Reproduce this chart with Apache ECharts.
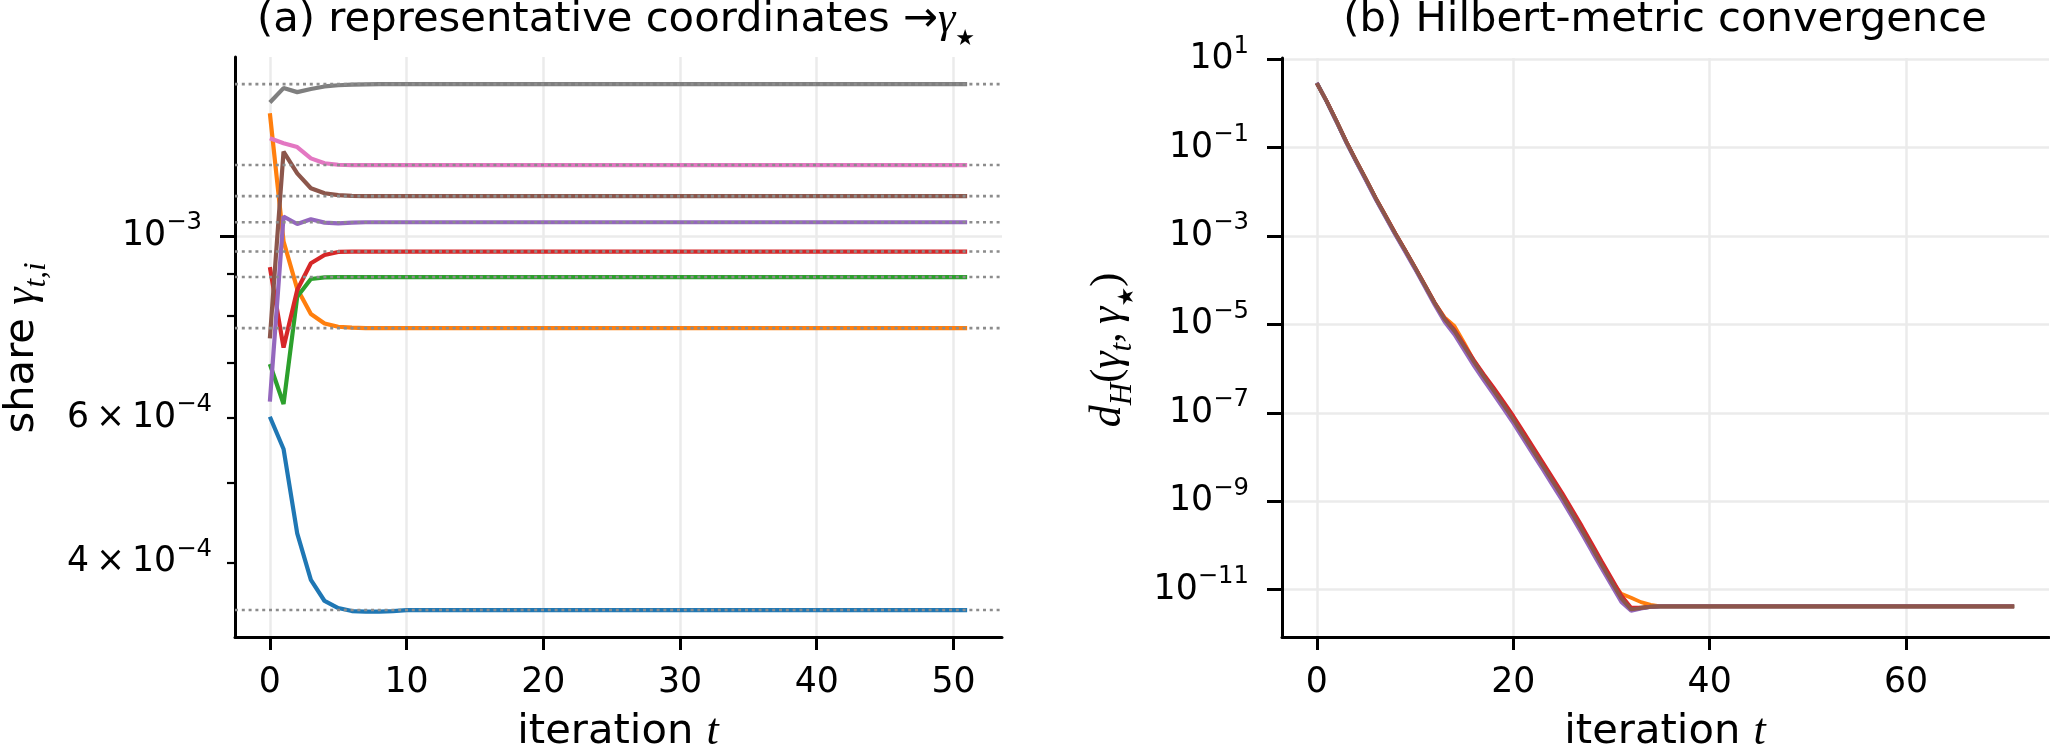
<!DOCTYPE html>
<html>
<head>
<meta charset="utf-8">
<title>representative coordinates / Hilbert-metric convergence</title>
<script src="https://cdn.jsdelivr.net/npm/echarts@6/dist/echarts.min.js"></script>
<style>
  html, body { margin: 0; padding: 0; background: #fff; }
  #chart { width: 2050px; height: 749px; }
</style>
</head>
<body>
<div id="chart"></div>
<script>
// (a) shares gamma_{t,i} for t = 0..51, one array per coordinate
const shareBlue = [6.02e-4, 5.50e-4, 4.34e-4, 3.81e-4, 3.59e-4, 3.52e-4, 3.49e-4, 3.485e-4, 3.485e-4, 3.49e-4,
  3.50e-4, 3.50e-4, 3.50e-4, 3.50e-4, 3.50e-4, 3.50e-4, 3.50e-4, 3.50e-4, 3.50e-4, 3.50e-4, 3.50e-4, 3.50e-4, 3.50e-4, 3.50e-4,
  3.50e-4, 3.50e-4, 3.50e-4, 3.50e-4, 3.50e-4, 3.50e-4, 3.50e-4, 3.50e-4, 3.50e-4, 3.50e-4, 3.50e-4, 3.50e-4, 3.50e-4, 3.50e-4,
  3.50e-4, 3.50e-4, 3.50e-4, 3.50e-4, 3.50e-4, 3.50e-4, 3.50e-4, 3.50e-4, 3.50e-4, 3.50e-4, 3.50e-4, 3.50e-4, 3.50e-4, 3.50e-4]
const shareOrange = [1.411e-3, 9.85e-4, 8.62e-4, 8.03e-4, 7.82e-4, 7.75e-4, 7.73e-4, 7.72e-4, 7.72e-4, 7.72e-4,
  7.72e-4, 7.72e-4, 7.72e-4, 7.72e-4, 7.72e-4, 7.72e-4, 7.72e-4, 7.72e-4, 7.72e-4, 7.72e-4, 7.72e-4, 7.72e-4, 7.72e-4, 7.72e-4,
  7.72e-4, 7.72e-4, 7.72e-4, 7.72e-4, 7.72e-4, 7.72e-4, 7.72e-4, 7.72e-4, 7.72e-4, 7.72e-4, 7.72e-4, 7.72e-4, 7.72e-4, 7.72e-4,
  7.72e-4, 7.72e-4, 7.72e-4, 7.72e-4, 7.72e-4, 7.72e-4, 7.72e-4, 7.72e-4, 7.72e-4, 7.72e-4, 7.72e-4, 7.72e-4, 7.72e-4, 7.72e-4]
const shareGreen = [6.98e-4, 6.24e-4, 8.43e-4, 8.86e-4, 8.90e-4, 8.91e-4, 8.91e-4, 8.91e-4, 8.91e-4, 8.91e-4,
  8.91e-4, 8.91e-4, 8.91e-4, 8.91e-4, 8.91e-4, 8.91e-4, 8.91e-4, 8.91e-4, 8.91e-4, 8.91e-4, 8.91e-4, 8.91e-4, 8.91e-4, 8.91e-4,
  8.91e-4, 8.91e-4, 8.91e-4, 8.91e-4, 8.91e-4, 8.91e-4, 8.91e-4, 8.91e-4, 8.91e-4, 8.91e-4, 8.91e-4, 8.91e-4, 8.91e-4, 8.91e-4,
  8.91e-4, 8.91e-4, 8.91e-4, 8.91e-4, 8.91e-4, 8.91e-4, 8.91e-4, 8.91e-4, 8.91e-4, 8.91e-4, 8.91e-4, 8.91e-4, 8.91e-4, 8.91e-4]
const shareRed = [9.16e-4, 7.31e-4, 8.59e-4, 9.26e-4, 9.48e-4, 9.56e-4, 9.57e-4, 9.57e-4, 9.57e-4, 9.57e-4,
  9.57e-4, 9.57e-4, 9.57e-4, 9.57e-4, 9.57e-4, 9.57e-4, 9.57e-4, 9.57e-4, 9.57e-4, 9.57e-4, 9.57e-4, 9.57e-4, 9.57e-4, 9.57e-4,
  9.57e-4, 9.57e-4, 9.57e-4, 9.57e-4, 9.57e-4, 9.57e-4, 9.57e-4, 9.57e-4, 9.57e-4, 9.57e-4, 9.57e-4, 9.57e-4, 9.57e-4, 9.57e-4,
  9.57e-4, 9.57e-4, 9.57e-4, 9.57e-4, 9.57e-4, 9.57e-4, 9.57e-4, 9.57e-4, 9.57e-4, 9.57e-4, 9.57e-4, 9.57e-4, 9.57e-4, 9.57e-4]
const sharePurple = [6.28e-4, 1.056e-3, 1.034e-3, 1.048e-3, 1.038e-3, 1.036e-3, 1.038e-3, 1.039e-3, 1.039e-3, 1.039e-3,
  1.039e-3, 1.039e-3, 1.039e-3, 1.039e-3, 1.039e-3, 1.039e-3, 1.039e-3, 1.039e-3, 1.039e-3, 1.039e-3, 1.039e-3, 1.039e-3, 1.039e-3, 1.039e-3,
  1.039e-3, 1.039e-3, 1.039e-3, 1.039e-3, 1.039e-3, 1.039e-3, 1.039e-3, 1.039e-3, 1.039e-3, 1.039e-3, 1.039e-3, 1.039e-3, 1.039e-3, 1.039e-3,
  1.039e-3, 1.039e-3, 1.039e-3, 1.039e-3, 1.039e-3, 1.039e-3, 1.039e-3, 1.039e-3, 1.039e-3, 1.039e-3, 1.039e-3, 1.039e-3, 1.039e-3, 1.039e-3]
const shareBrown = [7.50e-4, 1.267e-3, 1.192e-3, 1.143e-3, 1.127e-3, 1.121e-3, 1.119e-3, 1.118e-3, 1.118e-3, 1.118e-3,
  1.118e-3, 1.118e-3, 1.118e-3, 1.118e-3, 1.118e-3, 1.118e-3, 1.118e-3, 1.118e-3, 1.118e-3, 1.118e-3, 1.118e-3, 1.118e-3, 1.118e-3, 1.118e-3,
  1.118e-3, 1.118e-3, 1.118e-3, 1.118e-3, 1.118e-3, 1.118e-3, 1.118e-3, 1.118e-3, 1.118e-3, 1.118e-3, 1.118e-3, 1.118e-3, 1.118e-3, 1.118e-3,
  1.118e-3, 1.118e-3, 1.118e-3, 1.118e-3, 1.118e-3, 1.118e-3, 1.118e-3, 1.118e-3, 1.118e-3, 1.118e-3, 1.118e-3, 1.118e-3, 1.118e-3, 1.118e-3]
const sharePink = [1.315e-3, 1.297e-3, 1.283e-3, 1.243e-3, 1.226e-3, 1.221e-3, 1.220e-3, 1.220e-3, 1.220e-3, 1.220e-3,
  1.220e-3, 1.220e-3, 1.220e-3, 1.220e-3, 1.220e-3, 1.220e-3, 1.220e-3, 1.220e-3, 1.220e-3, 1.220e-3, 1.220e-3, 1.220e-3, 1.220e-3, 1.220e-3,
  1.220e-3, 1.220e-3, 1.220e-3, 1.220e-3, 1.220e-3, 1.220e-3, 1.220e-3, 1.220e-3, 1.220e-3, 1.220e-3, 1.220e-3, 1.220e-3, 1.220e-3, 1.220e-3,
  1.220e-3, 1.220e-3, 1.220e-3, 1.220e-3, 1.220e-3, 1.220e-3, 1.220e-3, 1.220e-3, 1.220e-3, 1.220e-3, 1.220e-3, 1.220e-3, 1.220e-3, 1.220e-3]
const shareGray = [1.454e-3, 1.514e-3, 1.497e-3, 1.510e-3, 1.521e-3, 1.526e-3, 1.529e-3, 1.530e-3, 1.531e-3, 1.531e-3,
  1.531e-3, 1.531e-3, 1.531e-3, 1.531e-3, 1.531e-3, 1.531e-3, 1.531e-3, 1.531e-3, 1.531e-3, 1.531e-3, 1.531e-3, 1.531e-3, 1.531e-3, 1.531e-3,
  1.531e-3, 1.531e-3, 1.531e-3, 1.531e-3, 1.531e-3, 1.531e-3, 1.531e-3, 1.531e-3, 1.531e-3, 1.531e-3, 1.531e-3, 1.531e-3, 1.531e-3, 1.531e-3,
  1.531e-3, 1.531e-3, 1.531e-3, 1.531e-3, 1.531e-3, 1.531e-3, 1.531e-3, 1.531e-3, 1.531e-3, 1.531e-3, 1.531e-3, 1.531e-3, 1.531e-3, 1.531e-3]
// fixed point gamma_star, same order as the shares
const gammaStar = [3.50e-4, 7.72e-4, 8.91e-4, 9.57e-4, 1.039e-3, 1.118e-3, 1.220e-3, 1.531e-3]

// (b) d_H(gamma_t, gamma_star) for t = 0..71 (first 35 steps, then the common floor)
const floorB = [4.17e-12, 4.17e-12, 4.17e-12, 4.17e-12, 4.17e-12, 4.17e-12, 4.17e-12, 4.17e-12, 4.17e-12, 4.17e-12, 4.17e-12, 4.17e-12,
  4.17e-12, 4.17e-12, 4.17e-12, 4.17e-12, 4.17e-12, 4.17e-12, 4.17e-12, 4.17e-12, 4.17e-12, 4.17e-12, 4.17e-12, 4.17e-12,
  4.17e-12, 4.17e-12, 4.17e-12, 4.17e-12, 4.17e-12, 4.17e-12, 4.17e-12, 4.17e-12, 4.17e-12, 4.17e-12, 4.17e-12, 4.17e-12, 4.17e-12]
const distBlue = [2.86, 1.10, 0.39, 0.132, 0.049, 0.0187, 6.95e-3, 2.76e-3, 1.10e-3, 4.6e-4, 1.87e-4, 7.45e-5, 2.96e-5, 1.29e-5, 6.9e-6,
  3.1e-6, 1.38e-6, 6.5e-7, 3.1e-7, 1.48e-7, 6.9e-8, 3.1e-8, 1.38e-8, 6.2e-9, 2.76e-9, 1.23e-9, 5.1e-10, 2.14e-10, 8.7e-11, 3.55e-11,
  1.48e-11, 6.2e-12, 3.5e-12, 3.8e-12, 4.07e-12]
const distOrange = [2.90, 1.13, 0.40, 0.136, 0.0505, 0.0193, 7.1e-3, 2.84e-3, 1.13e-3, 4.72e-4, 1.93e-4, 7.7e-5, 3.1e-5, 1.45e-5, 9.2e-6,
  3.8e-6, 1.50e-6, 6.8e-7, 3.2e-7, 1.52e-7, 7.1e-8, 3.2e-8, 1.42e-8, 6.4e-9, 2.85e-9, 1.28e-9, 5.3e-10, 2.22e-10, 9.0e-11, 3.7e-11,
  1.6e-11, 8.0e-12, 6.5e-12, 5.2e-12, 4.5e-12]
const distGreen = [2.92, 1.11, 0.395, 0.134, 0.0498, 0.0190, 7.0e-3, 2.80e-3, 1.11e-3, 4.64e-4, 1.89e-4, 7.5e-5, 3.0e-5, 1.30e-5, 7.0e-6,
  3.1e-6, 1.38e-6, 6.5e-7, 3.1e-7, 1.48e-7, 6.9e-8, 3.1e-8, 1.38e-8, 6.2e-9, 2.78e-9, 1.24e-9, 5.2e-10, 2.16e-10, 8.8e-11, 3.6e-11,
  1.5e-11, 6.4e-12, 3.7e-12, 3.9e-12, 4.1e-12]
const distRed = [2.85, 1.13, 0.40, 0.137, 0.051, 0.0194, 7.2e-3, 2.88e-3, 1.15e-3, 4.8e-4, 1.96e-4, 7.8e-5, 3.1e-5, 1.38e-5, 7.6e-6,
  3.4e-6, 1.55e-6, 7.4e-7, 3.7e-7, 1.8e-7, 8.5e-8, 3.8e-8, 1.7e-8, 7.6e-9, 3.4e-9, 1.52e-9, 6.4e-10, 2.7e-10, 1.09e-10, 4.4e-11,
  1.82e-11, 7.4e-12, 3.9e-12, 3.9e-12, 4.1e-12]
const distPurple = [2.95, 1.10, 0.385, 0.130, 0.0480, 0.0180, 6.70e-3, 2.65e-3, 1.05e-3, 4.35e-4, 1.78e-4, 7.0e-5, 2.75e-5, 1.15e-5, 5.9e-6,
  2.6e-6, 1.15e-6, 5.4e-7, 2.6e-7, 1.24e-7, 5.8e-8, 2.6e-8, 1.16e-8, 5.2e-9, 2.3e-9, 1.02e-9, 4.3e-10, 1.8e-10, 7.3e-11, 3.0e-11,
  1.25e-11, 5.2e-12, 3.3e-12, 3.7e-12, 4.05e-12]
const distBrown = [2.88, 1.12, 0.398, 0.135, 0.0501, 0.0191, 7.08e-3, 2.82e-3, 1.12e-3, 4.68e-4, 1.91e-4, 7.59e-5, 3.02e-5, 1.32e-5, 7.08e-6,
  3.16e-6, 1.41e-6, 6.61e-7, 3.16e-7, 1.51e-7, 7.08e-8, 3.16e-8, 1.41e-8, 6.31e-9, 2.82e-9, 1.26e-9, 5.25e-10, 2.19e-10, 8.91e-11, 3.63e-11,
  1.51e-11, 6.31e-12, 3.55e-12, 3.80e-12, 4.07e-12]

// ticks
const xTicksA = [0, 10, 20, 30, 40, 50]
const xTicksB = [0, 20, 40, 60]
const yMajorA = [1e-3]
const yMinorA = [4e-4, 5e-4, 6e-4, 7e-4, 8e-4, 9e-4]
const yMinorLabelsA = [4e-4, 6e-4]
const yTicksB = [1e1, 1e-1, 1e-3, 1e-5, 1e-7, 1e-9, 1e-11]

const tab10 = ['#1f77b4', '#ff7f0e', '#2ca02c', '#d62728', '#9467bd', '#8c564b', '#e377c2', '#7f7f7f']
const sansFont = 'DejaVu Sans'
const serifFont = 'Liberation Serif'

const xMinA = -2.55, xMaxA = 53.55
const xMinB = -3.55, xMaxB = 74.55
const yMinA = 3.245e-4, yMaxA = 1.652e-3
const yMinB = 8.45e-13, yMaxB = 10.7

const lg = (v) => Math.log10(v)
const sup = (n) => (n < 0 ? '\u2212' + (-n) : '' + n)

// rich styles for 10^k labels
const tickRich = {
    b: {fontFamily: sansFont, fontSize: 34.7, color: '#000', lineHeight: 50, verticalAlign: 'middle'},
    s: {fontFamily: sansFont, fontSize: 24.3, color: '#000', lineHeight: 33, verticalAlign: 'top'},
}

const sharesA = [shareBlue, shareOrange, shareGreen, shareRed, sharePurple, shareBrown, sharePink, shareGray]
const distsB = [distBlue, distOrange, distGreen, distRed, distPurple, distBrown]

const seriesA = sharesA.map((vals, k) => ({
    type: 'line',
    xAxisIndex: 0,
    yAxisIndex: 0,
    data: vals.map((v, t) => [t, v]),
    symbol: 'none',
    showSymbol: false,
    lineStyle: {color: tab10[k], width: 4.2},
    itemStyle: {color: tab10[k]},
    emphasis: {disabled: true},
    z: 2,
}))

// dotted horizontal lines at gamma_star, across the whole x range
const starLines = gammaStar.map((g) => ({
    type: 'line',
    xAxisIndex: 0,
    yAxisIndex: 0,
    data: [[xMinA, g], [xMaxA, g]],
    symbol: 'none',
    showSymbol: false,
    silent: true,
    lineStyle: {color: '#8c8c8c', width: 2.6, type: [3, 3.8]},
    emphasis: {disabled: true},
    z: 3,
}))

const seriesB = distsB.map((vals, k) => ({
    type: 'line',
    xAxisIndex: 1,
    yAxisIndex: 3,
    data: vals.concat(floorB).map((v, t) => [t, v]),
    symbol: 'none',
    showSymbol: false,
    lineStyle: {color: tab10[k], width: 3.8},
    itemStyle: {color: tab10[k]},
    emphasis: {disabled: true},
}))

const axisBlack = {color: '#000', width: 3}
const gridLine = {show: true, lineStyle: {color: '#ebebeb', width: 2.5}}

const xAxisBase = (gi, min, max, ticks) => ({
    gridIndex: gi,
    type: 'value',
    position: 'bottom',
    min: min,
    max: max,
    axisLine: {show: true, onZero: false, lineStyle: axisBlack},
    axisTick: {show: true, length: 13, lineStyle: axisBlack, customValues: ticks},
    axisLabel: {customValues: ticks, fontFamily: sansFont, fontSize: 34.7, color: '#000', margin: 28},
    splitLine: gridLine,
})

const option = {
    backgroundColor: '#fff',
    animation: false,
    grid: [
        {left: 235, top: 57, width: 767, height: 580, outerBoundsMode: 'none'},
        {left: 1282, top: 58, width: 767, height: 579, outerBoundsMode: 'none'},
    ],
    xAxis: [
        xAxisBase(0, xMinA, xMaxA, xTicksA),
        xAxisBase(1, xMinB, xMaxB, xTicksB),
    ],
    yAxis: [
        // 0: log scale used by panel (a) lines
        {gridIndex: 0, type: 'log', position: 'left', min: yMinA, max: yMaxA, show: false},
        // 1: major ticks of panel (a)
        {
            gridIndex: 0, type: 'value', position: 'left', min: lg(yMinA), max: lg(yMaxA),
            axisLine: {show: true, onZero: false, lineStyle: axisBlack},
            axisTick: {show: true, length: 15, lineStyle: axisBlack, customValues: yMajorA.map(lg)},
            axisLabel: {
                customValues: yMajorA.map(lg), margin: 33, rich: tickRich,
                formatter: (v) => '{b|10}{s|' + sup(Math.round(v)) + '}',
            },
            splitLine: gridLine,
        },
        // 2: minor ticks of panel (a)
        {
            gridIndex: 0, type: 'value', position: 'left', min: lg(yMinA), max: lg(yMaxA),
            axisLine: {show: false, onZero: false},
            axisTick: {show: true, length: 8, lineStyle: {color: '#000', width: 2.2}, customValues: yMinorA.map(lg)},
            axisLabel: {
                customValues: yMinorLabelsA.map(lg), margin: 23, rich: tickRich,
                formatter: (v) => {
                    const e = Math.floor(v)
                    const m = Math.round(Math.pow(10, v - e))
                    return '{b|' + m + '\u2009×\u200910}{s|' + sup(e) + '}'
                },
            },
            splitLine: {show: false},
        },
        // 3: log scale used by panel (b) lines
        {gridIndex: 1, type: 'log', position: 'left', min: yMinB, max: yMaxB, show: false},
        // 4: ticks of panel (b)
        {
            gridIndex: 1, type: 'value', position: 'left', min: lg(yMinB), max: lg(yMaxB),
            axisLine: {show: true, onZero: false, lineStyle: axisBlack},
            axisTick: {show: true, length: 15, lineStyle: axisBlack, customValues: yTicksB.map(lg)},
            axisLabel: {
                customValues: yTicksB.map(lg), margin: 33, rich: tickRich,
                formatter: (v) => '{b|10}{s|' + sup(Math.round(v)) + '}',
            },
            splitLine: gridLine,
        },
    ],
    graphic: [],
    series: seriesA.concat(starLines, seriesB),
}

// titles and axis names (mathtext pieces as rich tokens)
const mathRich = {
    n: {fontFamily: sansFont, fontSize: 41.7, color: '#000', lineHeight: 60, verticalAlign: 'middle'},
    r: {fontFamily: serifFont, fontSize: 42, color: '#000', lineHeight: 60, verticalAlign: 'middle'},
    i: {fontFamily: serifFont, fontStyle: 'italic', fontSize: 44, color: '#000', lineHeight: 60, verticalAlign: 'middle'},
    si: {fontFamily: serifFont, fontStyle: 'italic', fontSize: 31, color: '#000', lineHeight: 44, verticalAlign: 'bottom'},
    st: {fontFamily: sansFont, fontSize: 22, color: '#000', lineHeight: 42, verticalAlign: 'bottom'},
}
const textEl = (x, y, text, rot) => ({
    type: 'text',
    x: x,
    y: y,
    rotation: rot || 0,
    silent: true,
    style: {
        text: text, rich: mathRich,
        align: 'center', verticalAlign: 'middle',
        textAlign: 'center', textVerticalAlign: 'middle',
        fill: '#000',
    },
})
option.graphic = [
    textEl(616, 20, '{n|(a) representative coordinates }{n|\u2192}{i|γ}{st|\u2605}'),
    textEl(1665, 20, '{n|(b) Hilbert-metric convergence}'),
    textEl(618, 732, '{n|iteration }{i|t}'),
    textEl(1665, 732, '{n|iteration }{i|t}'),
    textEl(22, 348, '{n|share }{i|γ}{si|t,i}', Math.PI / 2),
    textEl(1108, 350, '{i|d}{si|H}{r|(}{i|γ}{si|t}{r|,\u2009}{i|γ}{st|\u2605}{r|)}', Math.PI / 2),
]

const myChart = echarts.init(document.getElementById('chart'))
myChart.setOption(option)
</script>
</body>
</html>
